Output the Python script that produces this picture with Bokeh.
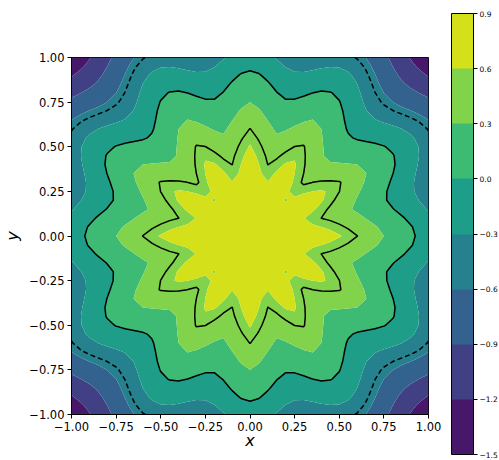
import numpy as np
from bokeh.plotting import figure
from bokeh.models import FixedTicker, ColorBar, LinearColorMapper
from bokeh.palettes import Viridis256
from bokeh.embed import file_html
from bokeh.resources import INLINE

# filled contour levels (also the colorbar ticks)
levels = [-1.5, -1.2, -0.9, -0.6, -0.3, 0.0, 0.3, 0.6, 0.9]
dashed_levels = [-0.5]
solid_levels = [0.0, 0.5]

# field: radial bowl + 12-petal star
center_value = 0.765
radial_drop = 1.035
petal_count = 12
petal_amp_base = 0.09
petal_amp_slope = 0.035
petal_core = 0.15
sharp_radius = 0.7      # inside it the petals are star-like (straight edges)
grid_n = 41

x_ticks = [-1.0, -0.75, -0.5, -0.25, 0.0, 0.25, 0.5, 0.75, 1.0]
x_tick_labels = ["\u22121.00", "\u22120.75", "\u22120.50", "\u22120.25", "0.00",
                 "0.25", "0.50", "0.75", "1.00"]
y_ticks = x_ticks
y_tick_labels = x_tick_labels
cbar_ticks = levels
cbar_tick_labels = ["\u22121.5", "\u22121.2", "\u22120.9", "\u22120.6", "\u22120.3",
                    "0.0", "0.3", "0.6", "0.9"]

xs = np.linspace(-1.0, 1.0, grid_n)
ys = np.linspace(-1.0, 1.0, grid_n)
X, Y = np.meshgrid(xs, ys)
R = np.hypot(X, Y)
TH = np.arctan2(Y, X)
wave_cos = np.cos(petal_count * TH)
wave_tri = 2 / np.pi * np.arcsin(np.clip(wave_cos, -1, 1))
s = 1 / (1 + np.exp((R - sharp_radius) / 0.05))
wave = s * wave_tri + (1 - s) * wave_cos
Z = (center_value - radial_drop * R ** 2
     + (petal_amp_base + petal_amp_slope * R) * (1 - np.exp(-(R / petal_core) ** 2)) * wave)

nb = len(levels) - 1
band_colors = [Viridis256[int(round((k + 0.5) / nb * 255))] for k in range(nb)]

p = figure(width=499, height=460, x_range=(-1, 1), y_range=(-1, 1),
           output_backend="svg", toolbar_location=None,
           min_border_left=70, min_border_right=71, min_border_top=57, min_border_bottom=46)
p.contour(xs, ys, Z, levels=levels, fill_color=band_colors)
p.contour(xs, ys, Z, levels=dashed_levels, line_color="black", line_width=1.5, line_dash="5 3")
p.contour(xs, ys, Z, levels=solid_levels, line_color="black", line_width=1.5)

p.grid.visible = False
p.outline_line_color = "black"
p.outline_line_width = 1
p.xaxis.ticker = FixedTicker(ticks=x_ticks)
p.yaxis.ticker = FixedTicker(ticks=y_ticks)
p.xaxis.major_label_overrides = dict(zip(x_ticks, x_tick_labels))
p.yaxis.major_label_overrides = dict(zip(y_ticks, y_tick_labels))
for ax in (p.xaxis, p.yaxis):
    ax.minor_tick_line_color = None
    ax.major_tick_in = 0
    ax.major_tick_out = 4
    ax.major_tick_line_color = "black"
    ax.axis_line_color = "black"
    ax.major_label_text_font = "DejaVu Sans"
    ax.major_label_text_font_size = "11.5px"
    ax.major_label_text_color = "black"
    ax.major_label_standoff = 3
    ax.axis_label_text_font = "DejaVu Sans"
    ax.axis_label_text_font_size = "16px"
    ax.axis_label_text_font_style = "italic"
    ax.axis_label_text_color = "black"
p.xaxis.axis_label = "x"
p.yaxis.axis_label = "y"
p.xaxis.axis_label_standoff = -3
p.yaxis.axis_label_standoff = 4

mapper = LinearColorMapper(palette=band_colors, low=levels[0], high=levels[-1])
cbar = ColorBar(color_mapper=mapper, orientation="vertical", width=22, height=441,
                location=(380, -40), padding=0, margin=0,
                ticker=FixedTicker(ticks=cbar_ticks),
                major_label_overrides=dict(zip(cbar_ticks, cbar_tick_labels)),
                major_tick_in=0, major_tick_out=4, major_tick_line_color="black",
                minor_tick_line_color=None, label_standoff=2,
                major_label_text_font="DejaVu Sans", major_label_text_font_size="7.5px",
                major_label_text_color="black", bar_line_color="black",
                border_line_color=None, background_fill_color=None)
p.add_layout(cbar, "center")

open("out.html", "w").write(file_html(p, INLINE))
